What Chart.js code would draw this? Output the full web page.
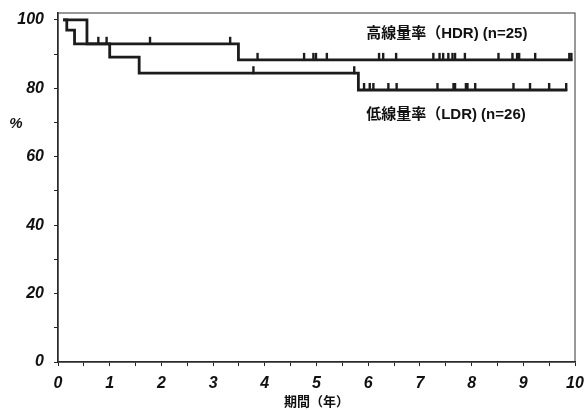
<!DOCTYPE html>
<html>
<head>
<meta charset="utf-8">
<script src="https://cdn.jsdelivr.net/npm/chart.js@4/dist/chart.umd.min.js"></script>
<style>
  html, body { margin: 0; padding: 0; background: #fff; }
  #wrap { width: 586px; height: 410px; }
</style>
</head>
<body>
<div id="wrap"><canvas id="kmChart"></canvas></div>
<script>
// 高線量率 (HDR): 段差の時点と生存率
const hdrTimes = [0.1, 0.17, 0.32, 3.49, 9.95];
const hdrSurv = [100, 97, 93, 88.3, 88.3];
const hdrCensor = [0.78, 0.94, 1.78, 3.33, 3.86, 4.76, 4.94, 4.99, 5.2, 6.21, 6.29, 6.54,
  7.26, 7.38, 7.45, 7.55, 7.63, 7.68, 7.87, 8.52, 8.79, 8.88, 8.92, 9.23, 9.89, 9.93];

// 低線量率 (LDR)
const ldrTimes = [0.1, 0.56, 1.0, 1.57, 5.81, 9.85];
const ldrSurv = [100, 93, 89.1, 84.4, 79.5, 79.5];
const ldrCensor = [3.78, 5.73, 5.92, 6.03, 6.1, 6.39, 6.55, 7.34, 7.65, 7.68, 7.89, 7.92,
  8.07, 8.81, 9.13, 9.5, 9.83];

const seriesNames = ['高線量率（HDR) (n=25)', '低線量率（LDR) (n=26)'];
const xLabels = [0, 1, 2, 3, 4, 5, 6, 7, 8, 9, 10];
const yLabels = [0, 20, 40, 60, 80, 100];

const lineColor = '#1c1c1c';
const tickFont = { family: "'Liberation Sans', Arial, sans-serif", size: 16, weight: 'bold', style: 'italic' };
const cjkFont = "bold 15px 'Liberation Sans', 'Noto Sans CJK JP', sans-serif";

function toPoints(times, surv) {
  return times.map((t, i) => ({ x: t, y: surv[i] }));
}

// 打ち切り時点での生存率 (直前の段差の値)
function levelAt(times, surv, t) {
  let v = surv[0];
  for (let i = 0; i < times.length; i++) {
    if (times[i] <= t) v = surv[i];
  }
  return v;
}

const censorPlugin = {
  id: 'censorMarks',
  afterDatasetsDraw(chart) {
    const { ctx, scales: { x, y } } = chart;
    const groups = [
      [hdrTimes, hdrSurv, hdrCensor],
      [ldrTimes, ldrSurv, ldrCensor]
    ];
    ctx.save();
    ctx.strokeStyle = lineColor;
    ctx.lineWidth = 2.4;
    groups.forEach(([times, surv, cens]) => {
      cens.forEach(t => {
        const px = x.getPixelForValue(t);
        const py = y.getPixelForValue(levelAt(times, surv, t));
        ctx.beginPath();
        ctx.moveTo(px, py + 1);
        ctx.lineTo(px, py - 7);
        ctx.stroke();
      });
    });
    ctx.restore();
  }
};

const textPlugin = {
  id: 'extraText',
  afterDraw(chart) {
    const { ctx, chartArea, scales: { x, y } } = chart;
    ctx.save();
    // 枠線
    ctx.strokeStyle = '#333';
    ctx.lineWidth = 1;
    ctx.strokeRect(chartArea.left, chartArea.top, chartArea.right - chartArea.left, chartArea.bottom - chartArea.top);

    ctx.fillStyle = '#111';
    ctx.textBaseline = 'middle';
    ctx.textAlign = 'left';
    ctx.font = cjkFont;
    ctx.fillText(seriesNames[0], x.getPixelForValue(5.96), y.getPixelForValue(95.9));
    ctx.fillText(seriesNames[1], x.getPixelForValue(5.96), y.getPixelForValue(72.2));

    ctx.font = "bold italic 15px 'Liberation Sans', Arial, sans-serif";
    ctx.textAlign = 'center';
    ctx.fillText('%', chartArea.left - 42, y.getPixelForValue(69.6));
    ctx.restore();
  }
};

new Chart(document.getElementById('kmChart'), {
  type: 'line',
  data: {
    datasets: [
      {
        label: seriesNames[0],
        data: toPoints(hdrTimes, hdrSurv),
        borderColor: lineColor,
        borderWidth: 2.8,
        stepped: 'before',
        pointRadius: 0,
        fill: false
      },
      {
        label: seriesNames[1],
        data: toPoints(ldrTimes, ldrSurv),
        borderColor: lineColor,
        borderWidth: 2.8,
        stepped: 'before',
        pointRadius: 0,
        fill: false
      }
    ]
  },
  options: {
    responsive: true,
    maintainAspectRatio: false,
    animation: false,
    layout: { padding: { top: 13, right: 11, left: 0, bottom: 0 } },
    plugins: {
      legend: { display: false },
      tooltip: { enabled: false }
    },
    scales: {
      x: {
        type: 'linear',
        min: 0,
        max: 10,
        afterFit: s => { s.height = 48; s.paddingLeft = 0; s.paddingRight = 0; },
        border: { color: '#222', width: 1.5 },
        grid: { drawOnChartArea: false, tickLength: 4, color: '#222' },
        ticks: {
          stepSize: 0.5,
          autoSkip: false,
          maxRotation: 0,
          padding: 8,
          color: '#111',
          font: tickFont,
          callback: v => xLabels.includes(v) ? v : ''
        },
        title: {
          display: true,
          text: '期間（年）',
          color: '#111',
          font: { family: "'Noto Sans CJK JP', sans-serif", size: 13, weight: 'bold' },
          padding: { top: 0, bottom: 1 }
        }
      },
      y: {
        min: 0,
        max: 102,
        afterFit: s => { s.width = 58; s.paddingTop = 0; s.paddingBottom = 0; },
        border: { color: '#222', width: 1.5 },
        grid: { drawOnChartArea: false, tickLength: 4, color: '#222' },
        ticks: {
          stepSize: 10,
          includeBounds: false,
          autoSkip: false,
          padding: 10,
          color: '#111',
          font: tickFont,
          callback: v => yLabels.includes(v) ? v : ''
        }
      }
    }
  },
  plugins: [censorPlugin, textPlugin]
});
</script>
</body>
</html>
